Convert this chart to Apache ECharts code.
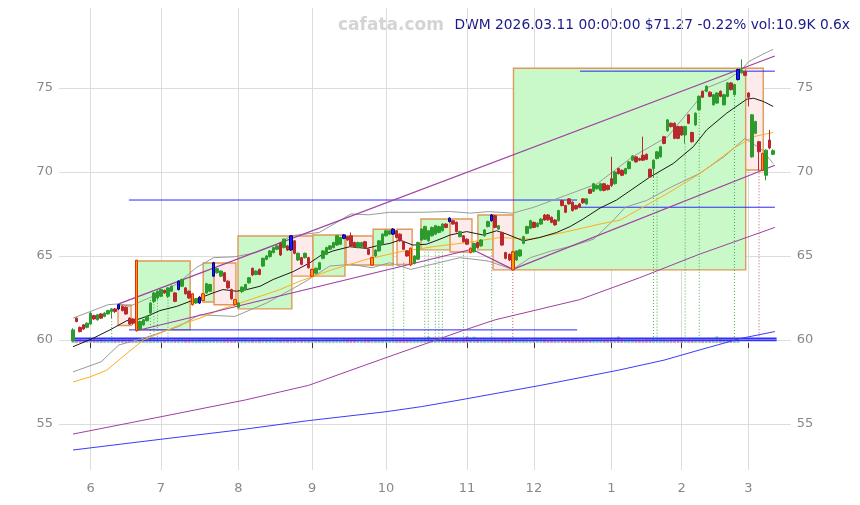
<!DOCTYPE html>
<html>
<head>
<meta charset="utf-8">
<title>DWM</title>
<script src="https://cdn.jsdelivr.net/npm/echarts@6/dist/echarts.min.js"></script>
<style>
  html, body { margin: 0; padding: 0; background: #fff; }
  #chart { width: 860px; height: 505px; }
</style>
</head>
<body>
<div id="chart"></div>
<script>
// trading days 2025-05-23 .. 2026-03-11
const firstDay = '2025-05-23'
const lastDay = '2026-03-11'
const holidays = ['2025-05-26', '2025-06-19', '2025-07-04', '2025-09-01', '2025-11-27',
  '2025-12-25', '2026-01-01', '2026-01-19', '2026-02-16']

// [open, close, low, high]
const ohlc = [
  [59.95, 60.6, 59.9, 60.7], [61.3, 61.1, 61.05, 61.35], [60.75, 60.5, 60.45, 60.8], [60.9, 60.65, 60.6, 60.95], [60.75, 61.0, 60.7, 61.05],
  [60.95, 61.6, 60.9, 61.65], [61.45, 61.25, 61.2, 61.5], [61.2, 61.5, 61.15, 61.55], [61.55, 61.3, 61.25, 61.6], [61.4, 61.6, 61.35, 61.65],
  [61.55, 61.75, 61.5, 61.8], [61.7, 61.85, 61.3, 61.9], [61.85, 61.7, 61.6, 61.9], [61.85, 62.1, 61.8, 62.15], [62.0, 61.75, 61.7, 62.05],
  [61.95, 61.55, 61.5, 62.0], [61.3, 60.95, 60.9, 61.35], [61.25, 61.0, 60.9, 61.3], [60.55, 64.75, 60.5, 64.76], [60.65, 61.1, 60.6, 61.15],
  [60.9, 61.2, 60.85, 61.25], [61.15, 61.4, 61.1, 61.45], [61.6, 62.2, 61.5, 62.25], [62.3, 62.8, 62.2, 62.85], [62.5, 62.9, 62.4, 62.95],
  [62.6, 63.0, 62.55, 63.05], [62.95, 62.8, 62.75, 63.0], [62.6, 63.1, 62.5, 63.15], [62.9, 63.2, 62.85, 63.25], [62.8, 62.3, 62.25, 62.85],
  [63.0, 63.5, 62.95, 63.55], [63.2, 63.6, 63.15, 63.65], [63.1, 62.75, 62.7, 63.15], [62.9, 62.5, 62.45, 62.95], [62.1, 62.75, 62.05, 62.8],
  [62.2, 62.45, 62.15, 62.5], [62.2, 62.55, 62.15, 62.6], [62.35, 62.75, 62.3, 62.8], [62.8, 63.35, 62.75, 63.4], [62.9, 63.3, 62.85, 63.35],
  [63.8, 64.6, 63.75, 64.65], [64.0, 64.25, 63.95, 64.3], [63.8, 64.1, 63.75, 64.15], [64.0, 63.5, 63.45, 64.05], [63.5, 63.1, 63.05, 63.55],
  [63.0, 62.45, 62.4, 63.05], [62.4, 62.1, 62.05, 62.45], [61.95, 62.2, 61.9, 62.25], [62.88, 63.14, 62.8, 63.2], [63.0, 63.3, 62.95, 63.35],
  [63.4, 63.7, 63.35, 63.75], [64.27, 63.87, 63.8, 64.3], [63.9, 64.1, 63.85, 64.15], [64.2, 63.9, 63.85, 64.25], [64.4, 64.86, 64.35, 64.9],
  [64.8, 65.0, 64.75, 65.05], [64.96, 65.3, 64.9, 65.35], [65.2, 65.5, 65.15, 65.55], [65.4, 65.6, 65.35, 65.65], [65.75, 65.06, 65.0, 65.8],
  [65.5, 66.0, 65.45, 66.05], [65.6, 65.35, 65.3, 65.65], [65.36, 66.2, 65.3, 66.25], [65.9, 65.16, 65.1, 65.95], [64.76, 65.16, 64.7, 65.2],
  [64.9, 64.5, 64.45, 64.95], [64.9, 65.16, 64.85, 65.2], [64.9, 64.3, 64.25, 64.95], [63.8, 64.2, 63.75, 64.25], [63.97, 64.27, 63.9, 64.3],
  [64.2, 64.6, 64.15, 64.65], [64.86, 65.3, 64.8, 65.35], [65.1, 65.5, 65.05, 65.55], [65.4, 65.6, 65.35, 65.65], [65.5, 65.8, 65.45, 65.85],
  [65.65, 66.2, 65.6, 66.25], [65.7, 66.1, 65.65, 66.15], [66.05, 66.25, 66.0, 66.3], [66.15, 65.95, 65.9, 66.2], [66.2, 65.6, 65.55, 66.4],
  [65.8, 65.55, 65.5, 65.85], [65.5, 65.8, 65.45, 65.85], [65.55, 65.8, 65.5, 65.85], [65.85, 65.5, 65.45, 65.9], [65.4, 65.1, 65.05, 65.45],
  [64.46, 64.9, 64.4, 64.95], [65.0, 65.35, 64.95, 65.4], [65.3, 65.9, 65.25, 65.95], [65.7, 66.3, 65.65, 66.35], [66.2, 66.5, 66.15, 66.55],
  [66.3, 66.5, 66.25, 66.55], [66.3, 66.6, 66.25, 66.65], [66.5, 66.1, 66.05, 66.55], [66.3, 65.9, 65.85, 66.35], [65.85, 65.4, 65.35, 65.9],
  [65.3, 65.0, 64.95, 65.35], [64.46, 65.46, 64.4, 65.5], [64.56, 65.0, 64.5, 65.05], [64.8, 65.8, 64.75, 65.85], [65.95, 66.6, 65.9, 66.65],
  [66.0, 66.75, 65.95, 66.8], [65.9, 66.5, 65.85, 66.55], [66.2, 66.7, 66.15, 66.75], [66.3, 66.8, 66.25, 66.85], [66.4, 66.75, 66.35, 66.8],
  [66.5, 66.9, 66.45, 66.95], [66.9, 66.7, 66.65, 66.95], [67.05, 67.25, 67.0, 67.3], [67.1, 66.9, 66.85, 67.15], [67.0, 66.45, 66.4, 67.05],
  [66.15, 66.45, 66.1, 66.5], [66.2, 65.85, 65.8, 66.25], [66.0, 65.7, 65.65, 66.05], [65.2, 65.46, 65.15, 65.5], [65.25, 65.75, 65.2, 65.8],
  [65.8, 65.5, 65.45, 65.85], [65.6, 65.95, 65.55, 66.0], [66.2, 66.55, 66.15, 66.6], [66.75, 67.05, 66.7, 67.1], [67.1, 67.44, 67.05, 67.5],
  [67.4, 66.7, 66.65, 67.45], [66.6, 66.8, 66.55, 66.85], [66.4, 65.65, 65.6, 66.45], [65.2, 64.86, 64.8, 65.25], [65.1, 64.76, 64.7, 65.15],
  [64.17, 65.25, 64.15, 65.3], [64.76, 65.3, 64.7, 65.35], [65.0, 65.36, 64.95, 65.4], [65.75, 66.15, 65.7, 66.2], [66.35, 66.75, 66.3, 66.8],
  [66.65, 67.1, 66.6, 67.15], [67.0, 66.7, 66.65, 67.05], [66.75, 66.95, 66.7, 67.0], [66.9, 67.2, 66.85, 67.25], [67.44, 67.14, 67.1, 67.5],
  [67.44, 67.15, 67.1, 67.5], [67.3, 67.0, 66.95, 67.35], [67.14, 66.85, 66.8, 67.2], [67.1, 67.7, 67.05, 67.75], [68.3, 68.0, 67.95, 68.35],
  [68.0, 67.6, 67.55, 68.05], [68.4, 68.1, 68.05, 68.45], [68.2, 67.7, 67.65, 68.25], [68.0, 67.8, 67.75, 68.05], [68.1, 67.9, 67.85, 68.15],
  [68.4, 68.17, 68.1, 68.45], [68.1, 68.4, 68.05, 68.45], [68.97, 68.73, 68.7, 69.0], [68.85, 69.3, 68.8, 69.35], [69.0, 69.2, 68.95, 69.25],
  [68.9, 69.3, 68.85, 69.35], [69.3, 68.9, 68.85, 69.35], [69.2, 68.95, 68.9, 69.25], [69.6, 69.2, 69.1, 70.9], [69.3, 70.0, 69.25, 70.05],
  [70.2, 69.9, 69.85, 70.25], [70.1, 69.8, 69.75, 70.15], [69.9, 70.2, 69.85, 70.25], [70.2, 70.6, 70.15, 70.65], [70.7, 70.95, 70.65, 71.0],
  [70.9, 70.6, 70.55, 70.95], [70.8, 70.7, 70.65, 70.85], [71.0, 70.7, 70.65, 72.1], [71.05, 70.75, 70.7, 71.1], [70.16, 69.7, 69.65, 70.2],
  [70.2, 70.7, 69.7, 70.75], [70.8, 71.2, 70.75, 71.25], [70.9, 71.5, 70.85, 71.55], [72.1, 71.7, 71.65, 72.15], [72.45, 73.1, 72.4, 73.15],
  [72.9, 72.7, 72.65, 72.95], [72.9, 72.0, 71.95, 72.95], [72.7, 72.0, 71.95, 72.75], [72.7, 72.2, 72.15, 72.75], [72.2, 72.7, 71.7, 72.75],
  [73.4, 72.9, 72.85, 73.45], [72.35, 71.8, 71.75, 72.4], [72.8, 73.5, 72.75, 73.55], [73.7, 74.5, 73.65, 74.55], [74.8, 74.45, 74.4, 74.85],
  [74.8, 75.1, 74.75, 75.15], [74.75, 74.5, 74.45, 74.8], [74.0, 74.6, 73.95, 74.65], [74.1, 74.7, 74.05, 74.75], [74.8, 74.5, 74.45, 74.85],
  [74.0, 74.6, 73.95, 74.65], [74.5, 75.3, 74.45, 75.35], [75.3, 74.9, 74.85, 75.35], [74.6, 75.2, 74.55, 75.25], [75.5, 76.1, 75.45, 76.15],
  [75.9, 76.07, 75.85, 76.7], [75.97, 75.75, 75.7, 76.0], [74.7, 74.45, 73.9, 74.75], [70.9, 73.4, 70.85, 73.45], [72.3, 73.0, 72.25, 73.05],
  [71.8, 71.2, 70.1, 71.85], [70.1, 71.1, 70.05, 71.15], [69.8, 71.3, 69.5, 71.35], [71.9, 71.43, 71.35, 72.5], [71.05, 71.27, 71.0, 71.35]
]
const blueIdx = [13, 30, 36, 40, 62, 77, 91, 107, 119, 189]
const orangeIdx = [18, 34, 37, 46, 68, 85, 96, 113, 125, 196]

// volume, thousands of shares
const volume = [
  18, 16, 17, 15, 16, 19, 17, 16, 18, 17, 16, 18, 17, 19, 18, 17, 20, 18, 24, 19,
  17, 18, 19, 18, 17, 16, 17, 18, 16, 17, 19, 18, 17, 18, 20, 17, 18, 19, 17, 18,
  20, 18, 17, 18, 19, 17, 18, 19, 17, 18, 16, 18, 17, 19, 18, 17, 18, 16, 19, 17,
  18, 17, 20, 18, 17, 19, 18, 17, 20, 18, 17, 16, 18, 17, 18, 17, 16, 19, 18, 17,
  18, 17, 16, 18, 17, 19, 18, 17, 18, 17, 18, 19, 17, 18, 19, 17, 20, 18, 17, 18,
  19, 30, 18, 17, 18, 17, 19, 18, 17, 18, 17, 18, 31, 19, 29, 18, 17, 18, 17, 19,
  18, 17, 18, 17, 19, 20, 18, 17, 18, 17, 16, 18, 17, 18, 17, 16, 18, 17, 16, 18,
  17, 16, 18, 19, 17, 18, 17, 16, 18, 17, 18, 17, 18, 17, 18, 30, 19, 17, 18, 17,
  18, 17, 16, 18, 17, 18, 17, 18, 17, 16, 18, 17, 18, 19, 17, 18, 17, 18, 19, 18,
  17, 18, 19, 31, 20, 18, 17, 18, 16, 10.9
]

// indicator lines, [day index, price]
const ma20 = [[0, 59.6], [5.7, 60.1], [10.5, 60.6], [15.3, 61.15], [18.1, 61.2], [20.9, 61.4], [24.7, 61.75],
  [29.5, 62.0], [33.3, 62.3], [36.1, 62.5], [39.8, 62.8], [42.6, 63.0], [46.5, 62.9], [49.4, 63.0], [53.2, 63.2],
  [56.9, 63.6], [62.6, 64.07], [67.4, 64.6], [70.2, 65.0], [73.9, 65.3], [78.7, 65.55], [83.5, 65.45], [86.3, 65.6],
  [90.1, 65.75], [92.9, 65.95], [96.6, 65.65], [100.5, 65.7], [104.3, 66.0], [107.2, 66.25], [111.9, 66.45],
  [116.5, 66.25], [120.4, 66.5], [123.3, 66.3], [128, 65.9], [132.7, 66.1], [137.5, 66.4], [141.3, 66.75],
  [145, 67.2], [149.8, 67.85], [154.5, 68.33], [164, 69.7], [170.6, 70.5], [176.3, 71.5], [180.1, 72.5],
  [185.8, 73.5], [191.5, 74.33], [193.4, 74.39], [196.2, 74.2], [199, 73.9]]
const ma50 = [[0, 57.5], [4.8, 57.8], [9.6, 58.2], [15.3, 59.2], [20, 60.0], [24.7, 60.4], [30.4, 60.9], [36.1, 61.3],
  [41.8, 61.8], [47.5, 62.2], [53.2, 62.6], [58.8, 63.0], [64.5, 63.5], [73.9, 64.2], [83.5, 64.8], [93, 65.25],
  [102.3, 65.55], [111.9, 65.8], [121.4, 66.1], [129.9, 66.0], [139.4, 66.4], [149.8, 66.9], [155.5, 67.14],
  [168.8, 68.7], [178.2, 69.9], [187.7, 71.4], [193.4, 72.1], [199, 72.35]]
const bandUpper = [[0, 61.3], [10, 62.1], [13, 62.15], [16, 62.0], [25, 62.8], [30, 63.4], [35, 64.3], [40, 64.9],
  [46, 64.95], [52, 65.2], [58, 65.7], [62, 66.2], [66, 66.3], [70, 66.4], [75, 67.0], [79, 67.5], [84, 67.45],
  [90, 67.6], [99, 67.6], [107, 67.65], [113, 67.55], [118, 67.64], [125, 67.55], [131, 67.9], [140, 68.6],
  [149, 69.3], [154, 70.1], [159, 70.9], [164, 71.5], [169, 72.1], [173, 73.1], [177, 74.1], [180, 75.0],
  [186, 75.5], [190, 76.07], [192, 76.56], [196, 77.0], [199, 77.3]]
const bandLower = [[0, 58.1], [8, 58.7], [13, 59.7], [20, 60.1], [30, 60.8], [36, 61.5], [46, 61.4], [55, 62.2],
  [62, 63.0], [67, 63.6], [73, 64.4], [79, 64.5], [85, 64.3], [90, 64.6], [96, 64.2], [102, 64.5], [110, 64.9],
  [118, 64.7], [125, 64.2], [130, 64.9], [136, 65.3], [142, 65.6], [148, 66.0], [153, 67.0], [157, 67.9],
  [163, 68.3], [170, 69.1], [178, 69.9], [185, 70.9], [191, 72.0], [196, 71.3], [199, 70.5]]
const longPurple = [[0, 54.4], [25, 55.43], [49, 56.43], [67, 57.3], [87, 58.8], [110, 60.5], [120, 61.2],
  [144, 62.4], [161, 63.7], [178, 65.1], [199.5, 66.7]]
const longBlue = [[0, 53.45], [25, 54.09], [47, 54.64], [67, 55.2], [89, 55.73], [99, 56.03], [110, 56.43],
  [133, 57.3], [155, 58.2], [168, 58.8], [178, 59.4], [190, 60.1], [199.5, 60.5]]
// trend lines [fromIdx, fromPrice, toIdx, toPrice]
const trendLines = [[13, 62.15, 199.5, 76.9], [18, 60.55, 113.4, 65.4], [113.4, 65.4, 125, 64.2], [125, 64.2, 199.5, 70.4]]
// level lines [fromIdx, toIdx, price]
const levelBlue = [[15.9, 143.3, 68.33], [15.9, 143.3, 60.6], [144.1, 199.5, 76.0], [144.1, 199.5, 67.9]]
const levelBase = [[0, 200, 60.09], [0, 200, 59.98]]
// boxes [fromIdx, toIdx, low, high, up]
const boxes = [
  [12.8, 16.5, 60.86, 62.08, 0], [17.9, 33.3, 60.6, 64.7, 1], [37.0, 40.1, 62.26, 64.58, 1], [40.1, 46.3, 62.1, 64.58, 0],
  [46.9, 62.2, 61.85, 66.19, 1], [62.2, 68.2, 63.8, 66.19, 0], [68.2, 77.3, 63.8, 66.25, 1], [77.6, 85.3, 64.46, 66.19, 0],
  [85.3, 91.0, 64.46, 66.59, 1], [92.1, 96.4, 64.5, 66.59, 0], [98.9, 107.2, 65.36, 67.2, 1], [107.2, 113.4, 65.24, 67.2, 0],
  [115.1, 119.4, 65.36, 67.44, 1], [119.4, 125.1, 64.17, 67.44, 0], [125.2, 191.2, 64.17, 76.17, 1], [191.2, 196.2, 70.12, 76.17, 0]
]
// dotted markers [dayIdx, fromPrice]
const greenMarks = [[11, 61.3], [22, 62.38], [23, 62.48], [24, 62.57], [27, 62.58], [91, 64.6], [94, 64.6], [100, 65.25],
  [101, 65.25], [103, 65.25], [104, 65.25], [105, 65.25], [111, 65.25], [119, 65.4], [165, 69.7], [166, 69.9],
  [174, 71.7], [178, 73.7], [188, 74.7]]
const redMarks = [[125, 64.17], [195, 70.1]]
const markBase = 60

// build trading calendar
const dates = []
for (let d = new Date(firstDay + 'T00:00:00Z'); d <= new Date(lastDay + 'T00:00:00Z'); d.setUTCDate(d.getUTCDate() + 1)) {
  const s = d.toISOString().slice(0, 10)
  const wd = d.getUTCDay()
  if (wd === 0 || wd === 6 || holidays.includes(s)) continue
  dates.push(s)
}
const PAD_L = 4
const PAD_R = 5
const cats = []
for (let i = 0; i < PAD_L; i++) cats.push('l' + i)
dates.forEach(d => cats.push(d))
for (let i = 0; i < PAD_R; i++) cats.push('r' + i)
const monthStart = {}
dates.forEach((d, i) => {
  if (i > 0 && d.slice(5, 7) !== dates[i - 1].slice(5, 7)) monthStart[i + PAD_L] = String(+d.slice(5, 7))
})
const isMonth = idx => monthStart[idx] !== undefined

const GREEN = '#2d9a2d'
const RED = '#b8282c'

const candleData = ohlc.map((d, i) => {
  const item = { value: [i + PAD_L, d[0], d[1], d[2], d[3]] }
  if (blueIdx.includes(i)) {
    item.itemStyle = { color: '#1a1aff', color0: '#1a1aff', borderColor: '#00008b', borderColor0: '#00008b' }
  } else if (orangeIdx.includes(i)) {
    item.itemStyle = { color: '#ff9900', color0: '#ff9900', borderColor: '#e03010', borderColor0: '#e03010' }
  }
  return item
})
const volData = volume.map((v, i) => ({
  value: [i + PAD_L, v],
  itemStyle: { color: ohlc[i][1] >= ohlc[i][0] ? 'rgba(45,154,45,0.45)' : 'rgba(184,40,44,0.45)' }
}))

function line(pts, color, width, z) {
  return {
    type: 'line', xAxisIndex: 1, yAxisIndex: 0, data: pts, showSymbol: false, silent: true,
    lineStyle: { color: color, width: width }, z: z || 3, animation: false
  }
}
function segs(list, color, width, z) {
  return list.map(s => line([[s[0], s[1]], [s[2], s[3]]], color, width, z))
}
function levels(list, color, width, z) {
  return list.map(s => line([[s[0], s[2]], [s[1], s[2]]], color, width, z))
}
function marks(list, color) {
  return {
    type: 'custom', xAxisIndex: 1, yAxisIndex: 0, data: list, silent: true, z: 2,
    encode: { x: 0, y: 1 },
    renderItem(params, api) {
      const a = api.coord([api.value(0), api.value(1)])
      const b = api.coord([api.value(0), markBase])
      return {
        type: 'line', shape: { x1: a[0], y1: a[1], x2: b[0], y2: b[1] },
        style: { stroke: color, lineWidth: 1, lineDash: [1, 2] }
      }
    }
  }
}

const chart = echarts.init(document.getElementById('chart'))
const AXIS_FONT = { color: '#888', fontSize: 13, fontFamily: 'DejaVu Sans' }

chart.setOption({
  animation: false,
  backgroundColor: '#fff',
  grid: { left: 58.93, right: 69.3, top: 8, bottom: 35 },
  graphic: [
    { type: 'text', left: 338, top: 17, style: { text: 'cafata.com', fill: '#d4d4d4', font: 'bold 17px "DejaVu Sans"' } },
    { type: 'text', right: 10, top: 18, style: { text: 'DWM 2026.03.11 00:00:00 $71.27 -0.22% vol:10.9K 0.6x', fill: '#1a1a8c', font: '13.8px "DejaVu Sans"' } }
  ],
  xAxis: [
    {
      type: 'category', data: cats, boundaryGap: false,
      axisLine: { show: false },
      axisTick: { show: true, interval: isMonth, length: 5, lineStyle: { color: '#333' } },
      axisLabel: Object.assign({ interval: isMonth, margin: 12, formatter: (v, idx) => monthStart[idx] || '' }, AXIS_FONT),
      splitLine: { show: true, interval: isMonth, lineStyle: { color: '#dcdcdc' } }
    },
    { type: 'value', min: -PAD_L, max: dates.length - 1 + PAD_R, show: false }
  ],
  yAxis: [
    {
      type: 'value', position: 'left', min: 52.26, max: 79.76, scale: true,
      axisLine: { show: false }, axisTick: { show: false },
      axisLabel: Object.assign({ showMinLabel: false, showMaxLabel: false, margin: 6 }, AXIS_FONT),
      splitLine: { show: true, showMinLine: false, showMaxLine: false, lineStyle: { color: '#dcdcdc' } }
    },
    {
      type: 'value', position: 'right', min: 52.26, max: 79.76, scale: true,
      axisLine: { show: false }, axisTick: { show: false },
      axisLabel: Object.assign({ showMinLabel: false, showMaxLabel: false, margin: 6 }, AXIS_FONT),
      splitLine: { show: false }
    },
    { type: 'value', min: -577, max: 1523, show: false }
  ],
  series: [
    {
      type: 'custom', xAxisIndex: 1, yAxisIndex: 0, data: boxes, silent: true, z: 1,
      encode: { x: [0, 1], y: [2, 3] },
      renderItem(params, api) {
        const p0 = api.coord([api.value(0), api.value(3)])
        const p1 = api.coord([api.value(1), api.value(2)])
        return {
          type: 'rect',
          shape: { x: p0[0], y: p0[1], width: p1[0] - p0[0], height: p1[1] - p0[1] },
          style: { fill: api.value(4) ? '#c9f9c9' : '#fcebea', stroke: '#dd9a5a', lineWidth: 1.4 }
        }
      }
    },
    marks(greenMarks, 'rgba(40,150,40,0.8)'),
    marks(redMarks, 'rgba(200,40,40,0.8)'),
    {
      type: 'bar', xAxisIndex: 0, yAxisIndex: 2, data: volData, barWidth: 2.8,
      encode: { x: 0, y: 1 }, silent: true, z: 2
    },
    ...levels(levelBlue, '#2a2aff', 1, 3),
    ...levels(levelBase, '#3030ff', 1.8, 3),
    line(longBlue, '#3b3bff', 1),
    line(longPurple, '#a040a0', 1),
    ...segs(trendLines, '#a040a0', 1.2, 4),
    line(bandUpper, '#9a9a9a', 1),
    line(bandLower, '#9a9a9a', 1),
    line(ma50, '#ffad1f', 1),
    line(ma20, '#1a1a1a', 1),
    {
      type: 'candlestick', xAxisIndex: 0, yAxisIndex: 0, data: candleData, barWidth: 3,
      encode: { x: 0, y: [1, 2, 3, 4] }, silent: true, z: 6,
      itemStyle: { color: GREEN, color0: RED, borderColor: GREEN, borderColor0: RED, borderWidth: 1 }
    }
  ]
})
</script>
</body>
</html>
